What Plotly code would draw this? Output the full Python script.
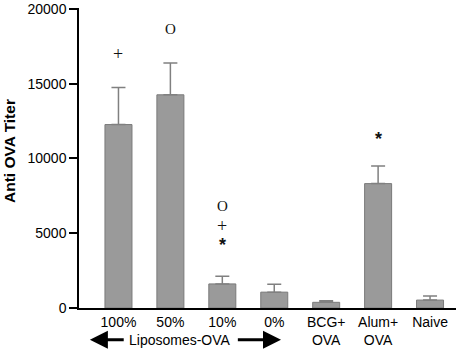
import plotly.graph_objects as go

categories = ["100%", "50%", "10%", "0%", "BCG+<br>OVA", "Alum+<br>OVA", "Naive"]
titers = [12270, 14260, 1610, 1060, 380, 8320, 530]
errors = [2480, 2120, 510, 530, 100, 1170, 265]

# significance markers: (category index, y value, symbol)
marker_idx = [0, 1, 2, 2, 2, 5]
marker_y = [16970, 18670, 6820, 5500, 4240, 11290]
marker_txt = ["+", "O", "O", "+", "*", "*"]

y_ticks = [0, 5000, 10000, 15000, 20000]

xpos = list(range(len(categories)))

fig = go.Figure()
fig.add_trace(go.Bar(
    x=xpos, y=titers,
    marker=dict(color="#9a9a9a", line=dict(color="#7a7a7a", width=1)),
    width=0.52,
    error_y=dict(type="data", array=errors, arrayminus=[0]*len(errors),
                 symmetric=False, color="#808080", thickness=1.5, width=7),
))

annotations = []
for i, yv, t in zip(marker_idx, marker_y, marker_txt):
    if t == "*":
        font = dict(family="Liberation Sans, Arial", size=18, color="#111111")
        txt = "<b>*</b>"
    elif t == "+":
        font = dict(family="Liberation Serif, Times New Roman, serif", size=18, color="#111111")
        txt = "+"
    else:
        font = dict(family="Liberation Serif, Times New Roman, serif", size=15, color="#111111")
        txt = t
    annotations.append(dict(x=i, y=yv, xref="x", yref="y", text=txt, showarrow=False,
                            font=font))

# y-axis title
annotations.append(dict(x=-0.186, y=0.523, xref="paper", yref="paper", text="<b>Anti OVA Titer</b>",
                        textangle=-90, showarrow=False, xanchor="center", yanchor="middle",
                        font=dict(family="Liberation Sans, Arial", size=15.5, color="black")))

# Liposomes-OVA label with arrows
annotations.append(dict(x=1.19, y=-0.106, xref="x", yref="paper", text="Liposomes-OVA",
                        showarrow=False, xanchor="center", yanchor="middle",
                        font=dict(family="Liberation Sans, Arial", size=14, color="black")))
annotations.append(dict(x=-0.55, y=-0.106, ax=0.13, ay=0, xref="x", yref="paper",
                        axref="x", ayref="pixel", text="", showarrow=True,
                        arrowhead=2, arrowsize=1.2, arrowwidth=3, arrowcolor="black"))
annotations.append(dict(x=3.13, y=-0.106, ax=2.27, ay=0, xref="x", yref="paper",
                        axref="x", ayref="pixel", text="", showarrow=True,
                        arrowhead=2, arrowsize=1.2, arrowwidth=3, arrowcolor="black"))

fig.update_layout(
    width=457, height=353,
    margin=dict(l=79, r=1, t=5, b=45),
    paper_bgcolor="white", plot_bgcolor="white",
    showlegend=False,
    font=dict(family="Liberation Sans, Arial", size=14, color="black"),
    annotations=annotations,
    xaxis=dict(range=[-0.76, 6.5], tickmode="array", tickvals=xpos, ticktext=categories,
               showline=True, linecolor="black", linewidth=1.5, ticks="", showgrid=False,
               zeroline=False, tickfont=dict(size=14)),
    yaxis=dict(range=[0, 20066], tickmode="array", tickvals=y_ticks,
               ticktext=[str(v) for v in y_ticks], ticklabeloverflow="allow",
               showline=True, linecolor="black", linewidth=1.5, ticks="outside",
               ticklen=8, tickwidth=1.5, tickcolor="black", showgrid=False, zeroline=False,
               tickfont=dict(size=14)),
)

fig.write_html("out.html", config={"displayModeBar": False},
               post_script="document.body.style.margin='0';document.body.style.padding='0';")
